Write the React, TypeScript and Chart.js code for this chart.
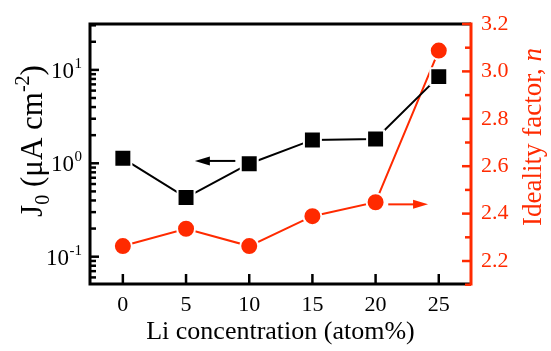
import { useEffect, useRef } from 'react';
import { Chart, registerables } from 'chart.js';

Chart.register(...registerables);

// ---- data ----
const concentrations = [0, 5, 10, 15, 20, 25];
const j0Values = [1.13, 0.43, 0.99, 1.78, 1.82, 8.47];
const idealityValues = [2.263, 2.336, 2.263, 2.389, 2.448, 3.088];

const xTickValues = [0, 5, 10, 15, 20, 25];
const j0MajorTicks = [0.1, 1, 10];
const j0TickExponents = ['-1', '0', '1'];
const j0MinorTicks = [0.06, 0.07, 0.08, 0.09, 0.2, 0.3, 0.4, 0.5, 0.6, 0.7, 0.8, 0.9, 2, 3, 4, 5, 6, 7, 8, 9, 20, 30];
const nMajorTicks = [2.2, 2.4, 2.6, 2.8, 3.0, 3.2];
const nMinorTicks = [2.1, 2.3, 2.5, 2.7, 2.9, 3.1];

const j0ArrowX = [8.9, 5.7]; // tail, head
const j0ArrowY = 1.06;
const nArrowX = [21.0, 24.15]; // tail, head
const nArrowY = 2.439;

const xTitle = 'Li concentration (atom%)';
const rightTitle = 'Ideality factor, ';
const rightTitleItalic = 'n';

const RED = '#ff2a00';
const FONT = '"Liberation Serif", "Times New Roman", serif';

function drawArrow(ctx: CanvasRenderingContext2D, x0: number, y: number, x1: number, color: string) {
  const dir = Math.sign(x1 - x0);
  const len = 15;
  const half = 4.5;
  ctx.save();
  ctx.strokeStyle = color;
  ctx.fillStyle = color;
  ctx.lineWidth = 2;
  ctx.beginPath();
  ctx.moveTo(x0, y);
  ctx.lineTo(x1 - dir * (len - 2), y);
  ctx.stroke();
  ctx.beginPath();
  ctx.moveTo(x1, y);
  ctx.lineTo(x1 - dir * len, y - half);
  ctx.lineTo(x1 - dir * len, y + half);
  ctx.closePath();
  ctx.fill();
  ctx.restore();
}

function drawParts(ctx: CanvasRenderingContext2D, parts: { t: string; f: string; dy: number }[]) {
  let total = 0;
  for (const p of parts) {
    ctx.font = p.f;
    total += ctx.measureText(p.t).width;
  }
  let x = -total / 2;
  for (const p of parts) {
    ctx.font = p.f;
    ctx.fillText(p.t, x, p.dy);
    x += ctx.measureText(p.t).width;
  }
}

const decorPlugin = {
  id: 'decor',
  afterDatasetsDraw(chart: any) {
    const { ctx, scales } = chart;
    const x = scales.x, yJ = scales.yJ, yN = scales.yN;
    drawArrow(ctx, x.getPixelForValue(j0ArrowX[0]), yJ.getPixelForValue(j0ArrowY), x.getPixelForValue(j0ArrowX[1]), '#000');
    drawArrow(ctx, x.getPixelForValue(nArrowX[0]), yN.getPixelForValue(nArrowY), x.getPixelForValue(nArrowX[1]), RED);
  },
  afterDraw(chart: any) {
    const { ctx, chartArea: a, scales } = chart;
    const x = scales.x, yJ = scales.yJ, yN = scales.yN;
    ctx.save();
    ctx.lineCap = 'butt';
    // black spines
    ctx.strokeStyle = '#000';
    ctx.lineWidth = 3;
    ctx.beginPath();
    ctx.moveTo(a.right, a.top);
    ctx.lineTo(a.left, a.top);
    ctx.lineTo(a.left, a.bottom);
    ctx.lineTo(a.right, a.bottom);
    ctx.stroke();
    // left ticks
    ctx.lineWidth = 2.5;
    for (const v of j0MajorTicks) {
      const py = yJ.getPixelForValue(v);
      ctx.beginPath(); ctx.moveTo(a.left, py); ctx.lineTo(a.left + 9, py); ctx.stroke();
    }
    for (const v of j0MinorTicks) {
      const py = yJ.getPixelForValue(v);
      if (py < a.top - 1 || py > a.bottom + 1) continue;
      ctx.beginPath(); ctx.moveTo(a.left, py); ctx.lineTo(a.left + 6, py); ctx.stroke();
    }
    // bottom ticks
    for (const v of xTickValues) {
      const px = x.getPixelForValue(v);
      ctx.beginPath(); ctx.moveTo(px, a.bottom); ctx.lineTo(px, a.bottom - 10); ctx.stroke();
    }
    // red right spine + ticks
    ctx.strokeStyle = RED;
    ctx.lineWidth = 3;
    ctx.beginPath();
    ctx.moveTo(a.right, a.top - 1.5);
    ctx.lineTo(a.right, a.bottom + 1.5);
    ctx.stroke();
    ctx.lineWidth = 2.5;
    for (const v of nMajorTicks) {
      const py = yN.getPixelForValue(v);
      ctx.beginPath(); ctx.moveTo(a.right, py); ctx.lineTo(a.right - 9, py); ctx.stroke();
    }
    for (const v of nMinorTicks) {
      const py = yN.getPixelForValue(v);
      ctx.beginPath(); ctx.moveTo(a.right, py); ctx.lineTo(a.right - 6, py); ctx.stroke();
    }
    // left tick labels (10^n)
    ctx.fillStyle = '#000';
    ctx.textBaseline = 'alphabetic';
    const labelRight = a.left - 8;
    j0MajorTicks.forEach((v, i) => {
      const py = yJ.getPixelForValue(v);
      ctx.font = `15px ${FONT}`;
      const sw = ctx.measureText(j0TickExponents[i]).width;
      ctx.textAlign = 'left';
      ctx.fillText(j0TickExponents[i], labelRight - sw, py - 2);
      ctx.font = `23px ${FONT}`;
      ctx.textAlign = 'right';
      ctx.fillText('10', labelRight - sw - 0.5, py + 8);
    });
    // x title
    ctx.textAlign = 'left';
    ctx.save();
    ctx.translate((a.left + a.right) / 2, 339);
    drawParts(ctx, [{ t: xTitle, f: `26px ${FONT}`, dy: 0 }]);
    ctx.restore();
    // left title
    ctx.save();
    ctx.translate(42, 141);
    ctx.rotate(-Math.PI / 2);
    drawParts(ctx, [
      { t: 'J', f: `31px ${FONT}`, dy: 0 },
      { t: '0', f: `20px ${FONT}`, dy: 7 },
      { t: ' (\u03bcA cm', f: `31px ${FONT}`, dy: 0 },
      { t: '-2', f: `20px ${FONT}`, dy: -13 },
      { t: ')', f: `31px ${FONT}`, dy: 0 },
    ]);
    ctx.restore();
    // right title
    ctx.save();
    ctx.fillStyle = RED;
    ctx.translate(541, 137);
    ctx.rotate(-Math.PI / 2);
    drawParts(ctx, [
      { t: rightTitle, f: `27px ${FONT}`, dy: 0 },
      { t: rightTitleItalic, f: `italic 27px ${FONT}`, dy: 0 },
    ]);
    ctx.restore();
    ctx.restore();
  },
};

export default function App() {
  const ref = useRef<HTMLCanvasElement | null>(null);
  useEffect(() => {
    if (!ref.current) return;
    const chart = new Chart(ref.current, {
      type: 'line',
      data: {
        datasets: [
          {
            label: 'J0',
            data: concentrations.map((c, i) => ({ x: c, y: j0Values[i] })),
            yAxisID: 'yJ',
            borderColor: '#000',
            borderWidth: 2,
            tension: 0,
            pointStyle: 'rect',
            pointRadius: 12,
            pointBackgroundColor: '#000',
            pointBorderColor: '#fff',
            pointBorderWidth: 2,
            order: 1,
          },
          {
            label: 'n',
            data: concentrations.map((c, i) => ({ x: c, y: idealityValues[i] })),
            yAxisID: 'yN',
            borderColor: RED,
            borderWidth: 2,
            tension: 0,
            pointStyle: 'circle',
            pointRadius: 9,
            pointBackgroundColor: RED,
            pointBorderColor: '#fff',
            pointBorderWidth: 2,
            order: 2,
          },
        ],
      },
      options: {
        responsive: false,
        animation: false,
        events: [],
        layout: { padding: { top: 24, left: 0, right: 0, bottom: 0 } },
        plugins: { legend: { display: false }, tooltip: { enabled: false } },
        scales: {
          x: {
            type: 'linear',
            min: -2.6,
            max: 27.55,
            grid: { display: false, drawTicks: false },
            border: { display: false },
            afterBuildTicks: (s: any) => { s.ticks = xTickValues.map((v) => ({ value: v })); },
            afterFit: (s: any) => { s.height = 67; },
            ticks: { color: '#000', padding: 8, font: { family: FONT, size: 22 }, maxRotation: 0, autoSkip: false },
          },
          yJ: {
            type: 'logarithmic',
            position: 'left',
            min: 0.051,
            max: 31,
            grid: { display: false, drawTicks: false },
            border: { display: false },
            ticks: { display: false },
            afterFit: (s: any) => { s.width = 90; },
          },
          yN: {
            type: 'linear',
            position: 'right',
            min: 2.103,
            max: 3.2,
            grid: { display: false, drawTicks: false },
            border: { display: false },
            afterBuildTicks: (s: any) => { s.ticks = nMajorTicks.map((v) => ({ value: v })); },
            afterFit: (s: any) => { s.width = 80; },
            ticks: {
              color: RED,
              padding: 10,
              font: { family: FONT, size: 22 },
              callback: (v: any) => Number(v).toFixed(1),
            },
          },
        },
      },
      plugins: [decorPlugin],
    });
    return () => chart.destroy();
  }, []);
  return (
    <div style={{ position: 'fixed', left: 0, top: 0, width: 551, height: 351, background: '#fff' }}>
      <canvas ref={ref} width={551} height={351} />
    </div>
  );
}
